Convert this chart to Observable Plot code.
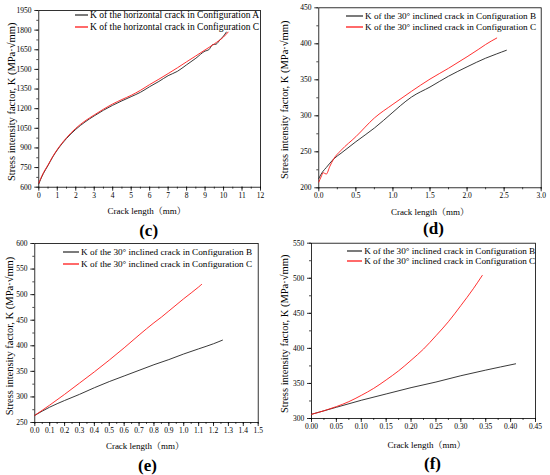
<!DOCTYPE html>
<html><head><meta charset="utf-8">
<script src="https://cdn.jsdelivr.net/npm/d3@7"></script>
<script src="https://cdn.jsdelivr.net/npm/@observablehq/plot@0.6"></script>
<style>
body{margin:0;background:#fff;}
#root{position:relative;width:550px;height:475px;overflow:hidden;font-family:"Liberation Serif","Noto Serif CJK SC","Noto Sans CJK SC",serif;color:#000;}
.panel{position:absolute;}
.leg{position:absolute;white-space:nowrap;line-height:10px;height:10px;display:flex;align-items:center;}
.leg svg{display:block;}
</style></head><body><div id="root"></div>
<script>
const FONT = "'Liberation Serif', 'Noto Serif CJK SC', 'Noto Sans CJK SC', serif";
const yTitle = "Stress intensity factor, K (MPa·√mm)";
const xTitle = "Crack length（mm）";

// Panel (c)
const cA_x = [0, 0.1, 0.25, 0.5, 0.75, 1, 1.5, 2, 2.5, 3, 3.5, 4, 4.5, 5, 5.5, 6, 6.5, 7, 7.5, 8, 8.5, 9, 9.2, 9.4, 9.6, 9.8, 10, 10.15];
const cA_k = [625, 660, 705, 766, 830, 884, 972, 1042, 1098, 1145, 1188, 1226, 1260, 1292, 1325, 1368, 1408, 1452, 1485, 1535, 1585, 1640, 1650, 1688, 1693, 1725, 1755, 1785];
const cC_x = [0, 0.1, 0.25, 0.5, 0.75, 1, 1.5, 2, 2.5, 3, 3.5, 4, 4.5, 5, 5.5, 6, 6.5, 7, 7.5, 8, 8.5, 9, 9.5, 10, 10.25];
const cC_k = [632, 665, 710, 770, 833, 888, 978, 1050, 1106, 1152, 1196, 1236, 1270, 1302, 1340, 1384, 1425, 1468, 1512, 1558, 1603, 1649, 1695, 1748, 1785];
const cLegend = ["K of the horizontal crack in Configuration A", "K of the horizontal crack in Configuration C"];

// Panel (d)
const dB_x = [0, 0.05, 0.1, 0.2, 0.3, 0.5, 0.75, 1.0, 1.1, 1.25, 1.5, 1.75, 2.0, 2.25, 2.4, 2.53];
const dB_k = [213, 222, 228, 240, 248, 264, 283, 305, 314, 326, 340, 355, 368, 380, 386, 391];
const dC_x = [0, 0.03, 0.06, 0.1, 0.15, 0.2, 0.3, 0.5, 0.75, 1.0, 1.25, 1.5, 1.75, 2.0, 2.15, 2.25, 2.4];
const dC_k = [208, 215, 221, 219, 230, 240, 252, 271, 297, 316, 334, 351, 366, 382, 392, 399, 408];
const dLegend = ["K of the 30° inclined crack in Configuration B", "K of the 30° inclined crack in Configuration C"];

// Panel (e)
const eB_x = [0, 0.1, 0.2, 0.3, 0.4, 0.5, 0.6, 0.7, 0.8, 0.9, 1.0, 1.1, 1.2, 1.26];
const eB_k = [264, 280, 293, 305, 318, 330, 341, 352, 363, 373, 384, 394, 404, 411];
const eC_x = [0, 0.1, 0.2, 0.3, 0.4, 0.5, 0.6, 0.7, 0.8, 0.85, 0.9, 1.0, 1.1, 1.12];
const eC_k = [264, 284, 305, 327, 349, 372, 396, 421, 445, 456, 468, 492, 515, 520];
const eLegend = ["K of the 30° inclined crack in Configuration B", "K of the 30° inclined crack in Configuration C"];

// Panel (f)
const fB_x = [0, 0.05, 0.1, 0.15, 0.2, 0.25, 0.3, 0.35, 0.41];
const fB_k = [306, 316, 326, 335, 344, 352, 361, 369, 378];
const fC_x = [0, 0.025, 0.05, 0.075, 0.1, 0.125, 0.15, 0.175, 0.2, 0.225, 0.25, 0.275, 0.3, 0.325, 0.343];
const fC_k = [306, 311, 317, 324, 333, 343, 355, 368, 383, 399, 418, 438, 461, 485, 504];
const fLegend = ["K of the 30° inclined crack in Configuration B", "K of the 30° inclined crack in Configuration C"];

// Tick values
const cXTicks = d3.range(0, 12.01, 1), cXMinor = d3.range(0, 12.01, 0.5);
const cYTicks = d3.range(600, 1951, 150), cYMinor = d3.range(600, 1951, 75);
const dXTicks = d3.range(0, 3.001, 0.5), dXMinor = d3.range(0, 3.001, 0.25);
const dYTicks = d3.range(200, 451, 50), dYMinor = d3.range(200, 451, 25);
const eXTicks = d3.range(0, 15.01, 1).map(v => v / 10), eXMinor = d3.range(0, 30.01, 1).map(v => v / 20);
const eYTicks = d3.range(250, 601, 50), eYMinor = d3.range(250, 601, 25);
const fXTicks = d3.range(0, 9.01, 1).map(v => v / 20), fXMinor = d3.range(0, 18.01, 1).map(v => v / 40);
const fYTicks = d3.range(300, 551, 50), fYMinor = d3.range(300, 551, 25);

const toRows = (xs, ks) => xs.map((x, i) => ({x, k: ks[i]}));

const root = document.getElementById("root");

function panel(c) {
  const ax = {fontSize: 7.5, fontFamily: FONT, label: null};
  const svg = Plot.plot({
    width: 275, height: 237,
    marginLeft: c.mL, marginRight: c.mR, marginTop: c.mT, marginBottom: c.mB,
    style: "font-family: 'Liberation Serif', serif; font-size: 7.5px; background: transparent; overflow: visible; color: #000;",
    x: {domain: c.xDomain},
    y: {domain: c.yDomain},
    marks: [
      Plot.axisX(c.xMinor, {...ax, tickSize: 2, tickFormat: () => "", strokeWidth: 0.7}),
      Plot.axisY(c.yMinor, {...ax, tickSize: 2, tickFormat: () => "", strokeWidth: 0.7}),
      Plot.axisX(c.xTicks, {...ax, tickSize: 4, tickPadding: 1.2, tickFormat: c.xFmt, strokeWidth: 0.8}),
      Plot.axisY(c.yTicks, {...ax, tickSize: 4, tickPadding: 3.3, tickFormat: d3.format("d"), strokeWidth: 0.8}),
      Plot.frame({stroke: "#000", strokeWidth: 0.8}),
      Plot.line(c.s1, {x: "x", y: "k", stroke: "#222", strokeWidth: 0.9, curve: "monotone-x"}),
      Plot.line(c.s2, {x: "x", y: "k", stroke: "#ff1a1a", strokeWidth: 0.9, curve: "monotone-x"}),
      Plot.text([xTitle], {text: d => d, frameAnchor: "bottom", textAnchor: "middle", dy: c.xlOff, dx: c.xlDx || 0, lineAnchor: "bottom", fontSize: 9, fontFamily: FONT}),
      Plot.text([yTitle], {text: d => d, frameAnchor: "left", textAnchor: "middle", rotate: -90, dx: -c.ylOff, dy: c.ylDy || 0, lineAnchor: "top", fontSize: 10.5, fontFamily: FONT}),
      Plot.text([c.tag], {text: d => d, frameAnchor: "bottom", textAnchor: "middle", dy: c.tagOff, dx: c.tagDx || 0, lineAnchor: "middle", fontSize: 17, fontWeight: "bold", fontFamily: FONT})
    ]
  });
  svg.querySelectorAll("text").forEach(t => t.style.fontFamily = FONT);
  const wrap = document.createElement("div");
  wrap.className = "panel";
  wrap.style.left = c.left + "px";
  wrap.style.top = c.top + "px";
  wrap.appendChild(svg);
  root.appendChild(wrap);
  // legend
  const colors = ["#333", "#ff1a1a"];
  c.legend.forEach((t, i) => {
    const row = document.createElement("div");
    row.className = "leg";
    row.style.left = c.legX + "px";
    row.style.top = (c.legY[i] - 5) + "px";
    row.style.fontSize = c.legFs + "px";
    const w = c.legW;
    row.innerHTML = `<svg width="${w}" height="10"><line x1="0" x2="${w}" y1="5" y2="5" stroke="${colors[i]}" stroke-width="1.3"/></svg><span style="margin-left:2px">${t}</span>`;
    root.appendChild(row);
  });
}

panel({left: 0, top: 0, mL: 38.3, mR: 15, mT: 10, mB: 50.3,
  xDomain: [0, 12], yDomain: [600, 1950], xTicks: cXTicks, xMinor: cXMinor, yTicks: cYTicks, yMinor: cYMinor,
  xFmt: d3.format("d"), s1: toRows(cA_x, cA_k), s2: toRows(cC_x, cC_k),
  xlOff: 27, xlDx: -3, ylOff: 31, ylDy: 3, tag: "(c)", tagOff: 43, tagDx: -1,
  legend: cLegend, legX: 75, legW: 13, legY: [15, 27], legFs: 9.5});

panel({left: 275, top: 0, mL: 43.3, mR: 9.3, mT: 7.3, mB: 49.7,
  xDomain: [0, 3], yDomain: [200, 450], xTicks: dXTicks, xMinor: dXMinor, yTicks: dYTicks, yMinor: dYMinor,
  xFmt: d3.format(".1f"), s1: toRows(dB_x, dB_k), s2: toRows(dC_x, dC_k),
  xlOff: 27, ylOff: 38, ylDy: 2, tag: "(d)", tagOff: 40.7, tagDx: 3.5,
  legend: dLegend, legX: 346, legW: 17, legY: [15.7, 26.7], legFs: 9.2});

panel({left: 0, top: 237, mL: 34.3, mR: 17.3, mT: 6, mB: 52,
  xDomain: [0, 1.5], yDomain: [250, 600], xTicks: eXTicks, xMinor: eXMinor, yTicks: eYTicks, yMinor: eYMinor,
  xFmt: d3.format(".1f"), s1: toRows(eB_x, eB_k), s2: toRows(eC_x, eC_k),
  xlOff: 26.5, xlDx: -1.5, ylOff: 29, ylDy: 3, tag: "(e)", tagOff: 43.5, tagDx: 1,
  legend: eLegend, legX: 63, legW: 16, legY: [252, 263.7], legFs: 9.2});

panel({left: 275, top: 237, mL: 36, mR: 15, mT: 5.7, mB: 56,
  xDomain: [0, 0.45], yDomain: [300, 550], xTicks: fXTicks, xMinor: fXMinor, yTicks: fYTicks, yMinor: fYMinor,
  xFmt: d3.format(".2f"), s1: toRows(fB_x, fB_k), s2: toRows(fC_x, fC_k),
  xlOff: 29, xlDx: 3, ylOff: 30.5, ylDy: 3, tag: "(f)", tagOff: 45, tagDx: 9,
  legend: fLegend, legX: 346.7, legW: 15.5, legY: [251, 261.3], legFs: 9.2});
</script></body></html>
